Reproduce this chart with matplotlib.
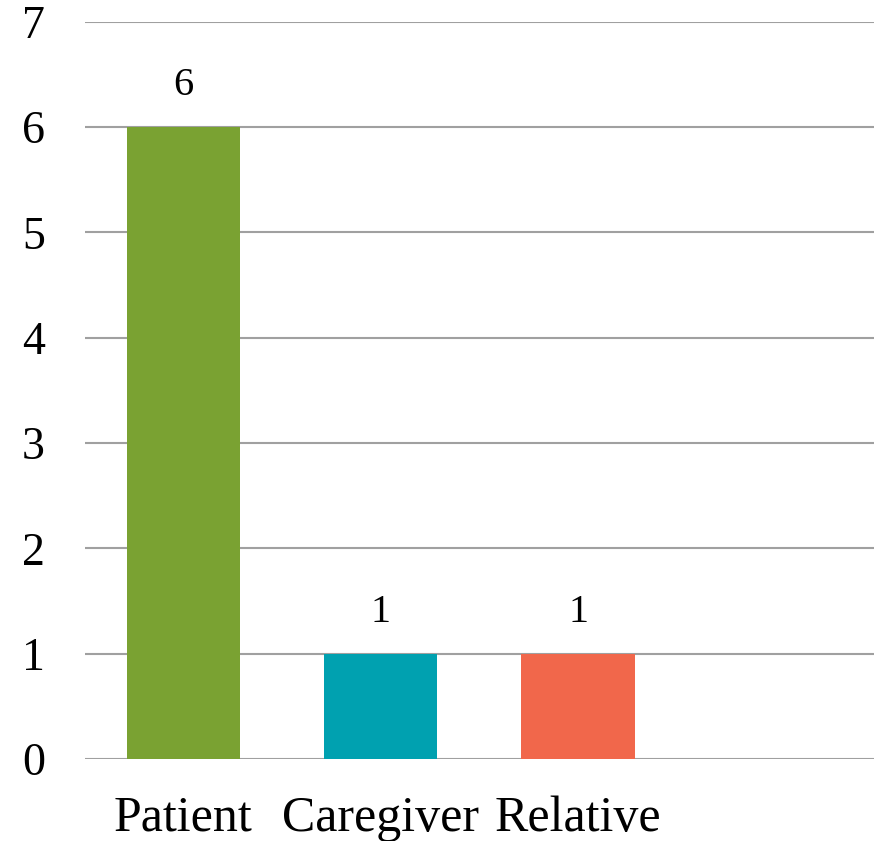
import matplotlib
matplotlib.use("Agg")
import matplotlib.pyplot as plt

categories = ["Patient", "Caregiver", "Relative", ""]
values = [6, 1, 1, None]
colors = ["#7AA232", "#00A1B0", "#F1674B"]

plt.rcParams['font.family'] = ['Liberation Serif', 'DejaVu Serif']

fig = plt.figure(figsize=(8.74, 8.41), dpi=100)
ax = fig.add_axes([0.097, 0.0975, 0.903, 0.8765])

xs = list(range(len(categories)))
bar_vals = [v for v in values if v is not None]
bars = ax.bar(xs[:len(bar_vals)], bar_vals, width=0.575, color=colors, zorder=3)
for b, v in zip(bars, bar_vals):
    ax.text(b.get_x() + b.get_width() / 2, v + 0.22, str(v), ha="center", va="bottom",
            fontsize=29, color="black")

ax.set_xlim(-0.5, len(categories) - 0.5)
ax.set_ylim(0, 7)
ax.set_yticks(range(0, 8))
ax.set_xticks(xs)
ax.set_xticklabels(categories, fontsize=36)
ax.tick_params(axis="y", labelsize=33, length=0, pad=37)
ax.tick_params(axis="x", length=0, pad=26)
for lbl in ax.get_yticklabels():
    lbl.set_horizontalalignment("center")
ax.grid(axis="y", color="#A0A0A0", linewidth=1.5, zorder=0)
for s in ax.spines.values():
    s.set_visible(False)

fig.savefig("out.png", dpi=100)
